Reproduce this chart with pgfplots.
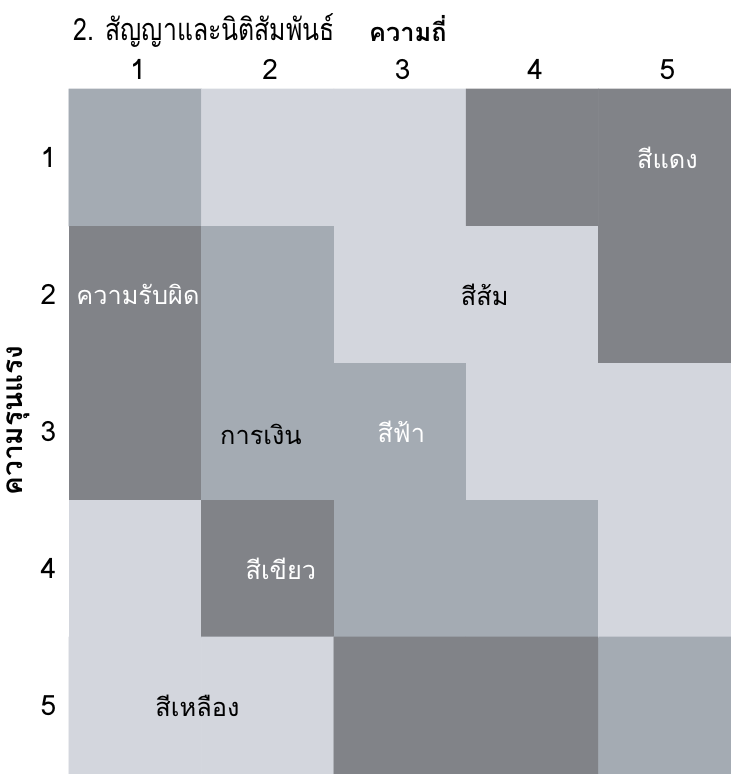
\documentclass[border=0pt]{standalone}
\usepackage{fontspec}
\setmainfont[Script=Thai]{Loma}
\usepackage{pgfplots}
\pgfplotsset{compat=1.18}
\begin{document}
\begin{tikzpicture}
\begin{axis}[
  at={(0,0)}, anchor=south west,
  scale only axis, width=496.5pt, height=513.75pt,
  xmin=0.5, xmax=5.5, ymin=0.5, ymax=5.5, enlargelimits=false,
  y dir=reverse,
  xtick={1,2,3,4,5}, ytick={1,2,3,4,5},
  xticklabel pos=top,
  axis line style={draw=none}, tick style={draw=none},
  /pgf/number format/assume math mode=true,
  ticklabel style={font=\fontsize{21}{24}\selectfont},
  xticklabel style={yshift=3.5pt, xshift=2pt},
  yticklabel style={xshift=-6pt},
  colormap={grays}{rgb255=(211,214,221) rgb255=(164,171,179) rgb255=(129,131,136)},
  clip=false,
]
\addplot[matrix plot*, mesh/cols=5, point meta=explicit, colormap access=direct] table[meta=c] {
x y c
1 1 1
2 1 0
3 1 0
4 1 2
5 1 2
1 2 2
2 2 1
3 2 0
4 2 0
5 2 2
1 3 2
2 3 1
3 3 1
4 3 0
5 3 0
1 4 0
2 4 2
3 4 1
4 4 1
5 4 0
1 5 0
2 5 0
3 5 2
4 5 2
5 5 1
};
\def\cf{\fontsize{19}{22}\selectfont}
\node[anchor=west, text=white, font=\cf] at (axis cs:0.52,2) {ความรับผิด};
\node[text=white, font=\cf] at (axis cs:5.02,1) {สีแดง};
\node[text=black, font=\cf] at (axis cs:3.64,2) {สีส้ม};
\node[text=black, font=\cf] at (axis cs:1.95,3.02) {การเงิน};
\node[text=white, font=\cf] at (axis cs:3.01,3.0) {สีฟ้า};
\node[text=white, font=\cf] at (axis cs:2.1,4.0) {สีเขียว};
\node[text=black, font=\cf] at (axis cs:1.47,5.0) {สีเหลือง};
\node[anchor=west, font=\fontsize{23}{26}\selectfont] at (axis cs:0.5,0.07) {\scalebox{0.81}[1]{2. สัญญาและนิติสัมพันธ์}};
\node[font=\bfseries\fontsize{19}{22}\selectfont] at (axis cs:3.06,0.06) {ความถี่};
\node[rotate=90, font=\bfseries\fontsize{21}{24}\selectfont] at (axis cs:0.115,2.92) {ความรุนแรง};
\end{axis}
\pgfresetboundingbox
\path[use as bounding box] (-51.75pt,0pt) rectangle (496.5pt,580.5pt);
\end{tikzpicture}
\end{document}
